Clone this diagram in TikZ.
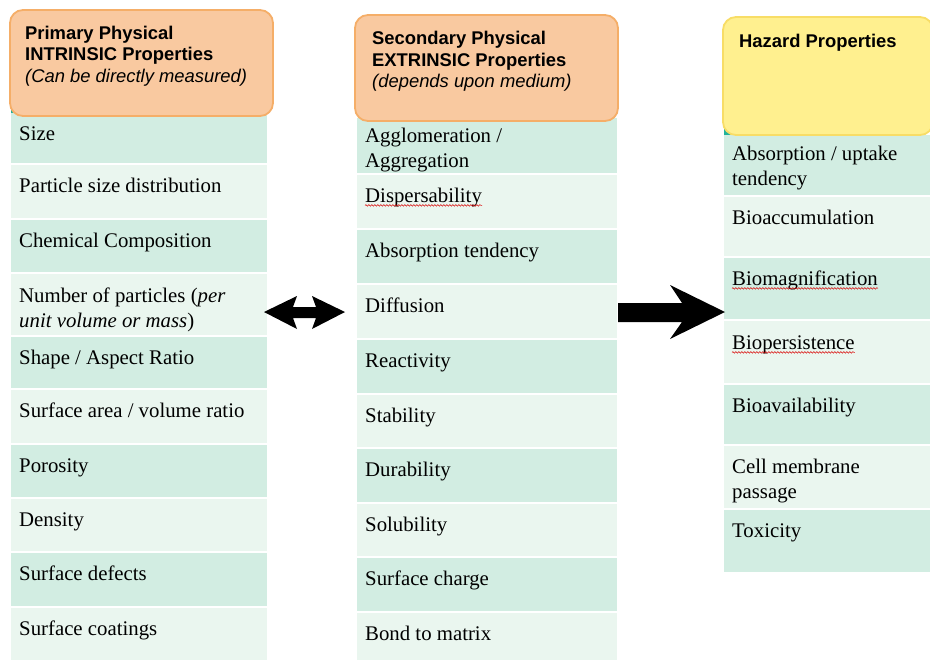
\documentclass[tikz,border=0pt]{standalone}
\usepackage{fontspec}
\setmainfont{Liberation Serif}
\newfontfamily\hsans{Liberation Sans}
\usetikzlibrary{decorations.pathmorphing}
\definecolor{rowdark}{HTML}{D2EDE2}
\definecolor{rowlight}{HTML}{EAF6EF}
\definecolor{peachfill}{HTML}{F9C9A0}
\definecolor{peachline}{HTML}{F5AE68}
\definecolor{yelfill}{HTML}{FFF08F}
\definecolor{yelline}{HTML}{F8DD66}
\definecolor{tealtab}{HTML}{22B39A}
\tikzset{
  celltext/.style={anchor=north west, inner sep=0pt, align=left,
    font=\fontsize{20.8}{25}\selectfont, execute at begin node=\strut},
  hdrtext/.style={anchor=north west, inner sep=0pt, align=left,
    font=\hsans\fontsize{18.4}{21.5}\selectfont, execute at begin node=\strut},
  peachbox/.style={fill=peachfill, draw=peachline, line width=1.8pt, rounded corners=13pt},
  yelbox/.style={fill=yelfill, draw=yelline, line width=1.8pt, rounded corners=13pt},
  spellmark/.style={draw=red!85!black, line width=0.5pt,
    decorate, decoration={snake, amplitude=0.8pt, segment length=3pt}},
  bigarrow/.style={fill=black}
}
% x1, x2, top, bottom, colour, name, text, extra vertical offset
\newcommand\tabrow[8]{%
  \fill[#5] (#1,#3) rectangle (#2,#4-2);
  \node[celltext] (#6) at (#1+8,#3+9.5+#8) {#7};
}
\begin{document}
\begin{tikzpicture}[x=1pt,y=-1pt]
\useasboundingbox[fill=white] (0,0) rectangle (930,662);
% ---------- left column ----------
\fill[tealtab] (11,104) rectangle (60,113);
\tabrow{11}{267}{113}{165}{rowdark}{l1}{Size}{0}
\tabrow{11}{267}{165}{220}{rowlight}{l2}{Particle size distribution}{0}
\tabrow{11}{267}{220}{274}{rowdark}{l3}{Chemical Composition}{0}
\tabrow{11}{267}{274}{337}{rowlight}{l4}{Number of particles (\textit{per}\\\textit{unit volume or mass})}{4}
\tabrow{11}{267}{337}{390}{rowdark}{l5}{Shape / Aspect Ratio}{0}
\tabrow{11}{267}{390}{445}{rowlight}{l6}{Surface area / volume ratio}{0}
\tabrow{11}{267}{445}{499}{rowdark}{l7}{Porosity}{0}
\tabrow{11}{267}{499}{553}{rowlight}{l8}{Density}{0}
\tabrow{11}{267}{553}{608}{rowdark}{l9}{Surface defects}{0}
\tabrow{11}{267}{608}{662}{rowlight}{l10}{Surface coatings}{0}
\draw[peachbox] (10,10) rectangle (273,116);
\node[hdrtext] (h1) at (25,25.5) {\bfseries Primary Physical\\\bfseries INTRINSIC Properties\\\itshape (Can be directly measured)};
% ---------- middle column ----------
\tabrow{357}{617}{118}{175}{rowdark}{m1}{Agglomeration /\\Aggregation}{0}
\tabrow{357}{617}{175}{230}{rowlight}{m2}{Dispersability}{0}
\tabrow{357}{617}{230}{285}{rowdark}{m3}{Absorption tendency}{0}
\tabrow{357}{617}{285}{340}{rowlight}{m4}{Diffusion}{0}
\tabrow{357}{617}{340}{395}{rowdark}{m5}{Reactivity}{0}
\tabrow{357}{617}{395}{449}{rowlight}{m6}{Stability}{0}
\tabrow{357}{617}{449}{504}{rowdark}{m7}{Durability}{0}
\tabrow{357}{617}{504}{558}{rowlight}{m8}{Solubility}{0}
\tabrow{357}{617}{558}{613}{rowdark}{m9}{Surface charge}{0}
\tabrow{357}{617}{613}{662}{rowlight}{m10}{Bond to matrix}{0}
\draw[peachbox] (355,15) rectangle (618,121);
\node[hdrtext] (h2) at (372,31) {\bfseries Secondary Physical\\\bfseries EXTRINSIC Properties\\\itshape (depends upon medium)};
% ---------- right column ----------
\fill[tealtab] (724,118) rectangle (770,135);
\tabrow{724}{936}{135}{197}{rowdark}{r1}{Absorption / uptake\\tendency}{1}
\tabrow{724}{936}{197}{258}{rowlight}{r2}{Bioaccumulation}{0}
\tabrow{724}{936}{258}{321}{rowdark}{r3}{Biomagnification}{0}
\tabrow{724}{936}{321}{385}{rowlight}{r4}{Biopersistence}{1}
\tabrow{724}{936}{385}{446}{rowdark}{r5}{Bioavailability}{0}
\tabrow{724}{936}{446}{510}{rowlight}{r6}{Cell membrane\\passage}{3}
\tabrow{724}{936}{510}{574}{rowdark}{r7}{Toxicity}{0}
\draw[yelbox] (723,17) rectangle (933,135);
\node[hdrtext] (h3) at (739,32.5) {\bfseries Hazard Properties};
% ---------- spell-check marks ----------
\draw[spellmark] ([yshift=4.5pt]m2.south west) -- ([yshift=4.5pt]m2.south east);
\draw[spellmark] ([yshift=4.5pt]r3.south west) -- ([yshift=4.5pt]r3.south east);
\draw[spellmark] ([yshift=4.5pt]r4.south west) -- ([yshift=4.5pt]r4.south east);
% ---------- arrows ----------
\fill[bigarrow] (264,312) -- (297,296) -- (293,307) -- (316,307) -- (312,296) -- (345,312)
  -- (312,329) -- (316,318) -- (293,318) -- (297,329) -- cycle;
\fill[bigarrow] (618,303) -- (682,303) -- (670,285) -- (725,312) -- (670,339) -- (682,322)
  -- (618,322) -- cycle;
\end{tikzpicture}
\end{document}
